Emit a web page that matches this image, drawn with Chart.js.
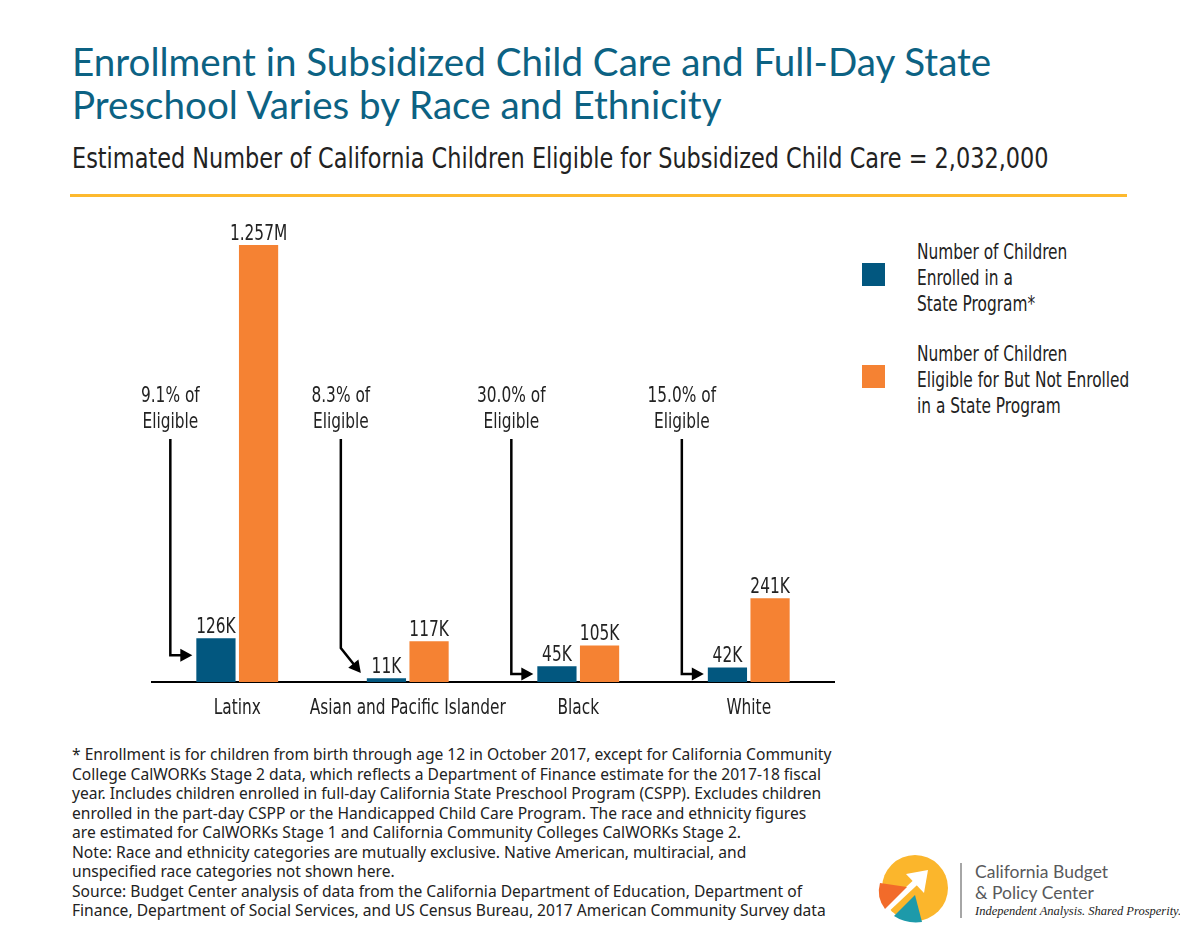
<!DOCTYPE html>
<html>
<head>
<meta charset="utf-8">
<script src="https://cdn.jsdelivr.net/npm/chart.js@4.4.0/dist/chart.umd.min.js"></script>
<style>
    body { margin: 0; width: 1200px; height: 945px; background: #fff; position: relative; overflow: hidden;
           font-family: "DejaVu Sans", sans-serif; color: #222; }
    .abs { position: absolute; }
    .estreito { transform-origin: 0 0; white-space: nowrap; }
    #titulo { left: 72px; top: 40px; font-family: Lato, sans-serif; font-size: 38.6px; line-height: 43px; color: #0c6283; white-space: nowrap; }
    #subtitulo { left: 72px; top: 142px; font-size: 28px; line-height: 34px; transform: scaleX(0.80); }
    #linha { left: 70px; top: 194px; width: 1057px; height: 3px; background: #fdb92e; }
    #grafico { left: 0; top: 200px; }
    .leg-box { width: 23px; height: 23px; }
    .leg-txt { left: 917px; font-size: 20.5px; line-height: 26px; transform: scaleX(0.75); }
    #notas { left: 72px; top: 745px; font-family: "Noto Sans", sans-serif; font-size: 15.6px; line-height: 19.5px; color: #222; white-space: nowrap; }
</style>
</head>
<body>
<div id="titulo" class="abs">Enrollment in Subsidized Child Care and Full-Day State<br>Preschool Varies by Race and Ethnicity</div>
<div id="subtitulo" class="abs estreito">Estimated Number of California Children Eligible for Subsidized Child Care = 2,032,000</div>
<div id="linha" class="abs"></div>
<canvas id="grafico" class="abs" width="860" height="540"></canvas>
<div id="legenda"></div>
<div id="notas" class="abs">
* Enrollment is for children from birth through age 12 in October 2017, except for California Community<br>
College CalWORKs Stage 2 data, which reflects a Department of Finance estimate for the 2017-18 fiscal<br>
year. Includes children enrolled in full-day California State Preschool Program (CSPP). Excludes children<br>
enrolled in the part-day CSPP or the Handicapped Child Care Program. The race and ethnicity figures<br>
are estimated for CalWORKs Stage 1 and California Community Colleges CalWORKs Stage 2.<br>
Note: Race and ethnicity categories are mutually exclusive. Native American, multiracial, and<br>
unspecified race categories not shown here.<br>
Source: Budget Center analysis of data from the California Department of Education, Department of<br>
Finance, Department of Social Services, and US Census Bureau, 2017 American Community Survey data
</div>
<svg class="abs" style="left:860px; top:840px" width="320" height="100">
    <circle cx="55" cy="48" r="33" fill="#fbb62c"/>
    <line x1="26" y1="70" x2="58" y2="40" stroke="#fff" stroke-width="6"/>
    <polygon points="46,34 68,30 64,53" fill="#fff"/>
    <path d="M20,43 L47,47 L25,69 Q16,57 20,43 Z" fill="#f26b2a"/>
    <path d="M34,76 L55,55 L62,82 Q46,84 34,76 Z" fill="#1d9aaa"/>
    <line x1="101" y1="23" x2="101" y2="78" stroke="#888" stroke-width="1.5"/>
    <text x="115" y="38" font-family="Lato, sans-serif" font-size="17.5" fill="#58595b">California Budget</text>
    <text x="115" y="59" font-family="Lato, sans-serif" font-size="17.5" fill="#58595b">&amp; Policy Center</text>
    <text x="115" y="75" font-family="Liberation Serif, serif" font-style="italic" font-size="12.5" fill="#222">Independent Analysis. Shared Prosperity.</text>
</svg>
<script>
// Dados do gráfico (valores em milhares de crianças)
const categorias = ['Latinx', 'Asian and Pacific Islander', 'Black', 'White'];
const matriculados = [126, 11, 45, 42];
const naoMatriculados = [1257, 117, 105, 241];
const pctElegiveis = ['9.1%', '8.3%', '30.0%', '15.0%'];
const nomesSeries = [
    ['Number of Children', 'Enrolled in a', 'State Program*'],
    ['Number of Children', 'Eligible for But Not Enrolled', 'in a State Program']
];
const cores = ['#02577f', '#f58233'];

const FONTE = '20.5px "DejaVu Sans", sans-serif';
const ESTREITO = 0.75;

// Formatar valores: K ou M
function formatValor(v) {
    return v >= 1000 ? (v / 1000).toFixed(3) + 'M' : v + 'K';
}

// Texto condensado no canvas
function textoEstreito(ctx, txt, x, y) {
    ctx.save();
    ctx.translate(x, y);
    ctx.scale(ESTREITO, 1);
    ctx.fillText(txt, 0, 0);
    ctx.restore();
}

// Desenha seta com ponta preenchida
function desenharSeta(ctx, pontos) {
    const n = pontos.length;
    const [px, py] = pontos[n - 2];
    const [tx, ty] = pontos[n - 1];
    const ang = Math.atan2(ty - py, tx - px);
    const cab = 12;
    ctx.beginPath();
    ctx.moveTo(pontos[0][0], pontos[0][1]);
    for (let i = 1; i < n - 1; i++) ctx.lineTo(pontos[i][0], pontos[i][1]);
    ctx.lineTo(tx - Math.cos(ang) * (cab - 1), ty - Math.sin(ang) * (cab - 1));
    ctx.stroke();
    ctx.beginPath();
    ctx.moveTo(tx, ty);
    ctx.lineTo(tx - Math.cos(ang) * cab + Math.sin(ang) * 6.5, ty - Math.sin(ang) * cab - Math.cos(ang) * 6.5);
    ctx.lineTo(tx - Math.cos(ang) * cab - Math.sin(ang) * 6.5, ty - Math.sin(ang) * cab + Math.cos(ang) * 6.5);
    ctx.closePath();
    ctx.fill();
}

// Plugin: rótulos de categorias, valores e anotações de % elegíveis
const anotacoes = {
    id: 'anotacoes',
    afterDatasetsDraw(chart) {
        const ctx = chart.ctx;
        const escX = chart.scales.x;
        const base = chart.scales.y.getPixelForValue(0);
        const topo = chart.chartArea.top;
        ctx.save();
        ctx.fillStyle = '#222';
        ctx.font = FONTE;
        ctx.textAlign = 'center';
        ctx.textBaseline = 'alphabetic';

        // Rótulos das categorias no eixo x
        chart.data.labels.forEach((lab, i) => {
            textoEstreito(ctx, lab, escX.getPixelForTick(i), base + 32);
        });

        // Valores acima das barras
        chart.data.datasets.forEach((ds, di) => {
            chart.getDatasetMeta(di).data.forEach((bar, i) => {
                textoEstreito(ctx, formatValor(ds.data[i]), bar.x, bar.y - 5);
            });
        });

        // Setas de % elegíveis
        ctx.strokeStyle = '#000';
        ctx.lineWidth = 2.5;
        chart.getDatasetMeta(0).data.forEach((bar, i) => {
            const esq = bar.x - bar.width / 2;
            const ax = esq - 26;
            ctx.fillStyle = '#222';
            textoEstreito(ctx, pctElegiveis[i] + ' of', ax, topo + 172);
            textoEstreito(ctx, 'Eligible', ax, topo + 198);
            ctx.fillStyle = '#000';
            if (base - bar.y < 10) {
                desenharSeta(ctx, [[ax, topo + 209], [ax, base - 34], [esq - 6, base - 9]]);
            } else {
                const yh = Math.min(bar.y + 17, base - 8);
                desenharSeta(ctx, [[ax, topo + 209], [ax, yh], [esq - 4, yh]]);
            }
        });
        ctx.restore();
    }
};

const grafico = new Chart(document.getElementById('grafico').getContext('2d'), {
    type: 'bar',
    data: {
        labels: categorias,
        datasets: [
            { label: nomesSeries[0].join(' '), data: matriculados, backgroundColor: cores[0] },
            { label: nomesSeries[1].join(' '), data: naoMatriculados, backgroundColor: cores[1] }
        ]
    },
    options: {
        responsive: false,
        animation: false,
        categoryPercentage: 0.5,
        barPercentage: 0.92,
        layout: { padding: { left: 152, right: 26, top: 30, bottom: 58 } },
        scales: {
            x: {
                grid: { display: false, drawTicks: false },
                border: { display: true, color: '#000', width: 2 },
                ticks: { display: false }
            },
            y: { display: false, min: 0, max: 1300 }
        },
        plugins: {
            legend: { display: false },
            tooltip: { enabled: false }
        }
    },
    plugins: [anotacoes]
});

// Legenda em HTML a partir das séries
const legenda = document.getElementById('legenda');
const topos = [239, 341];
nomesSeries.forEach((linhas, i) => {
    const caixa = document.createElement('div');
    caixa.className = 'abs leg-box';
    caixa.style.left = '862px';
    caixa.style.top = (topos[i] + 24) + 'px';
    caixa.style.background = cores[i];
    legenda.appendChild(caixa);
    const txt = document.createElement('div');
    txt.className = 'abs leg-txt estreito';
    txt.style.top = topos[i] + 'px';
    txt.innerHTML = linhas.join('<br>');
    legenda.appendChild(txt);
});
</script>
</body>
</html>
